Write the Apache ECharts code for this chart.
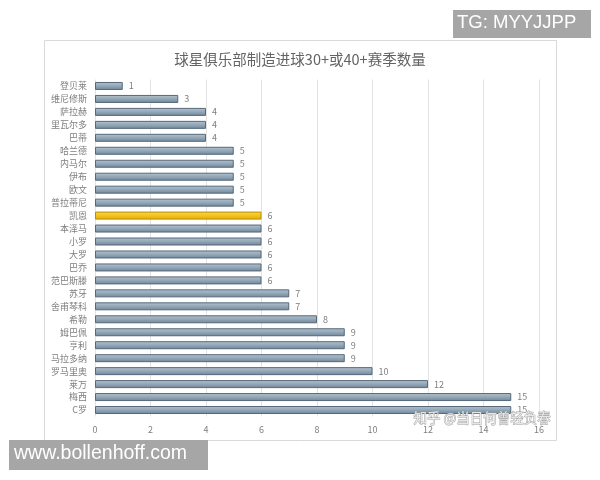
<!DOCTYPE html>
<html><head><meta charset="utf-8">
<script src="https://cdn.jsdelivr.net/npm/echarts@6/dist/echarts.min.js"></script>
<style>html,body{margin:0;padding:0;background:#fff}#c{width:600px;height:480px}</style>
</head><body><div id="c"></div>
<script>
const categories = ['登贝莱','维尼修斯','萨拉赫','里瓦尔多','巴蒂','哈兰德','内马尔','伊布','欧文','普拉蒂尼','凯恩','本泽马','小罗','大罗','巴乔','范巴斯滕','苏牙','舍甫琴科','希勒','姆巴佩','亨利','马拉多纳','罗马里奥','莱万','梅西','C罗'];
const values = [1,3,4,4,4,5,5,5,5,5,6,6,6,6,6,6,7,7,8,9,9,9,10,12,15,15];
const highlight = '凯恩';
const titleText = '球星俱乐部制造进球30+或40+赛季数量';
const font = '"Noto Sans CJK SC", "Noto Sans", sans-serif';

const normal = {
  color: {type:'linear',x:0,y:0,x2:0,y2:1,colorStops:[{offset:0,color:'#b4c3cf'},{offset:0.5,color:'#93a7b7'},{offset:1,color:'#6f8597'}]},
  borderColor:'#56697a', borderWidth:1
};
const hi = {
  color: {type:'linear',x:0,y:0,x2:0,y2:1,colorStops:[{offset:0,color:'#fbd75a'},{offset:0.5,color:'#f5c21b'},{offset:1,color:'#e0ad08'}]},
  borderColor:'#b98e00', borderWidth:1
};

const chart = echarts.init(document.getElementById('c'), null, {renderer:'canvas'});
chart.setOption({
  animation:false,
  backgroundColor:'#fff',
  title:{text:titleText,left:'center',top:47,textStyle:{fontFamily:font,fontSize:14.5,fontWeight:'normal',color:'#636363'}},
  grid:{left:95,right:61,top:79.5,bottom:63.5,containLabel:false},
  xAxis:{type:'value',min:0,max:16,interval:2,
    axisLine:{show:false},axisTick:{show:false},
    axisLabel:{color:'#7f7f7f',fontSize:9,fontFamily:font,margin:9},
    splitLine:{show:true,lineStyle:{color:'#e3e3e3',width:1}}},
  yAxis:{type:'category',data:categories,inverse:true,
    axisLine:{show:false},axisTick:{show:false},
    axisLabel:{color:'#7f7f7f',fontSize:9,fontFamily:font,margin:8}},
  series:[{type:'bar',barWidth:8,
    data:values.map((v,i)=>({value:v,itemStyle:categories[i]===highlight?hi:normal})),
    label:{show:true,position:'right',distance:6,color:'#7f7f7f',fontSize:9,fontFamily:font}}],
  graphic:[
    {type:'rect',shape:{x:44.5,y:40.5,width:512,height:400},style:{fill:'none',stroke:'#d9d9d9',lineWidth:1},z:-1},
    {type:'text',left:413,top:411,style:{text:'知乎 @当日何曾轻负春',font:'13.5px '+font,fill:'rgba(255,255,255,0.75)',stroke:'#9a9a9a',lineWidth:0.8},z:100},
    {type:'rect',shape:{x:453,y:10,width:138,height:28},style:{fill:'#a6a6a6'},z:100},
    {type:'text',left:457,top:13,style:{text:'TG: MYYJJPP',font:'18.5px "Liberation Sans", Arial, sans-serif',fill:'#fff'},z:101},
    {type:'rect',shape:{x:9,y:440,width:199,height:30},style:{fill:'#a6a6a6'},z:100},
    {type:'text',left:14,top:444,style:{text:'www.bollenhoff.com',font:'19.5px "Liberation Sans", Arial, sans-serif',fill:'#fff'},z:101}
  ]
});
</script></body></html>
